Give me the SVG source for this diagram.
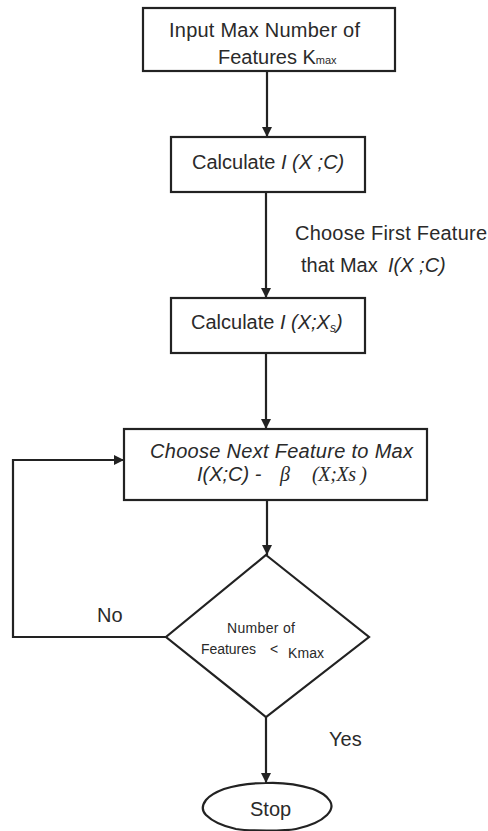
<svg xmlns="http://www.w3.org/2000/svg" width="488" height="831" viewBox="0 0 488 831">
<defs>
<marker id="ah" viewBox="0 0 10 10" refX="10" refY="5" markerWidth="10" markerHeight="10" markerUnits="userSpaceOnUse" orient="auto">
<path d="M0,0 L10,5 L0,10 Z" fill="#222"/>
</marker>
<style>
.box{fill:#fff;stroke:#222;stroke-width:2.2}
.ln{fill:none;stroke:#222;stroke-width:2.2;marker-end:url(#ah)}
text{font-family:"Liberation Sans",Arial,sans-serif;fill:#2a2a2a;font-size:20px}
.it{font-style:italic}
.tm{font-family:"Liberation Serif","Times New Roman",serif;font-style:italic}
.sm{font-size:14px}
</style>
</defs>
<rect width="488" height="831" fill="#fff"/>
<g id="connectors">
<line class="ln" x1="267" y1="72" x2="267" y2="137"/>
<line class="ln" x1="266" y1="192" x2="266" y2="298"/>
<line class="ln" x1="266" y1="353" x2="266" y2="429"/>
<line class="ln" x1="267" y1="500" x2="267" y2="555"/>
<line class="ln" x1="266" y1="717" x2="266" y2="783"/>
<polyline class="ln" points="166,637 13,637 13,460 124,460"/>
</g>
<g id="input">
<rect class="box" x="143" y="8" width="252" height="63"/>
<text x="169" y="37" textLength="191">Input Max Number of</text>
<text x="218" y="64">Features K<tspan font-size="11">max</tspan></text>
</g>
<g id="calc1">
<rect class="box" x="171" y="137" width="194" height="55"/>
<text x="192" y="169">Calculate <tspan class="it">I</tspan> <tspan class="it">(X ;C)</tspan></text>
</g>
<g id="label-first">
<text x="295" y="240" textLength="192">Choose First Feature</text>
<text x="301" y="272">that Max <tspan class="it" x="388">I(X ;C)</tspan></text>
</g>
<g id="calc2">
<rect class="box" x="171" y="298" width="194" height="55"/>
<text x="191" y="329">Calculate <tspan class="it">I</tspan> <tspan class="it">(X;X<tspan font-size="12" dy="3">s</tspan><tspan dy="-3">)</tspan></tspan></text>
</g>
<g id="choose-next">
<rect class="box" x="124" y="429" width="303" height="71"/>
<text x="150" y="458" class="it" textLength="263">Choose Next Feature to Max</text>
<text x="197" y="481" class="it">I(X;C) -</text>
<text x="280" y="481" class="tm">β</text>
<text x="312" y="481" class="tm" textLength="55" lengthAdjust="spacing">(X;Xs )</text>
</g>
<g id="decision">
<polygon class="box" points="266,555 369,637 266,717 166,637"/>
<text x="227" y="633" class="sm" textLength="68">Number of</text>
<text x="201" y="654" class="sm" textLength="55">Features</text>
<text x="270" y="654" class="sm">&lt;</text>
<text x="288" y="658" class="sm" textLength="36">Kmax</text>
</g>
<g id="labels">
<text x="97" y="622">No</text>
<text x="329" y="746">Yes</text>
</g>
<g id="stop">
<path class="box" d="M266,783 C285,782 300,785 313,789 C322,793 326,795 330,801 C333,806 331,811 327,815 C320,822 310,826 296,829 C286,831 248,831 236,829 C222,826 212,821 206,815 C201,810 203,804 206,800 C210,795 216,792 224,789 C236,785 250,783 266,783 Z"/>
<text x="250" y="816">Stop</text>
</g>
</svg>
